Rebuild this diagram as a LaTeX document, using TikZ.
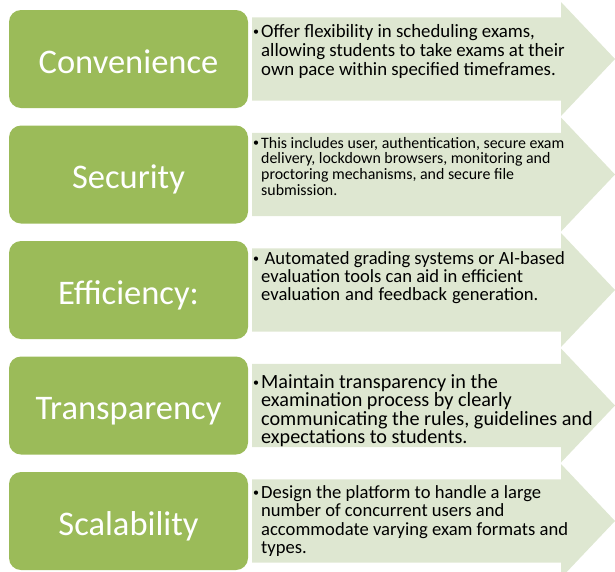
\documentclass[tikz,border=0pt]{standalone}
\usepackage{fontspec}
\setmainfont{Carlito}
\definecolor{boxgreen}{HTML}{9BBB59}
\definecolor{arrowgreen}{HTML}{DEE7D1}
\newcommand{\bulletpar}[1]{\makebox[8pt][l]{\raisebox{1.5pt}{\fontsize{12}{12}\selectfont\textbullet}}\parbox[t]{340pt}{\raggedright #1}}
\begin{document}
\begin{tikzpicture}[x=1pt,y=-1pt,
  headbox/.style={fill=boxgreen,rounded corners=12pt,minimum width=239pt,minimum height=98pt,
    inner sep=0pt,text=white,text height=28pt,text depth=0pt,font=\fontsize{34.5}{40}\selectfont},
  listtext/.style={anchor=base west,inner sep=0pt}]
\useasboundingbox(0,0)rectangle(615,571);
\pgfmathsetmacro{\bw}{41.7}
\pgfmathsetmacro{\hw}{57}
% arrows behind the text
\fill[arrowgreen](252,59)++(0,-\bw)--++(309,0)--++(0,\bw-\hw)--++(54,\hw)--++(-54,\hw)--++(0,\bw-\hw)--++(-309,0)--cycle;
\fill[arrowgreen](252,174.5)++(0,-\bw)--++(309,0)--++(0,\bw-\hw)--++(54,\hw)--++(-54,\hw)--++(0,\bw-\hw)--++(-309,0)--cycle;
\fill[arrowgreen](252,290)++(0,-\bw)--++(309,0)--++(0,\bw-\hw)--++(54,\hw)--++(-54,\hw)--++(0,\bw-\hw)--++(-309,0)--cycle;
\fill[arrowgreen](252,405.5)++(0,-\bw)--++(309,0)--++(0,\bw-\hw)--++(54,\hw)--++(-54,\hw)--++(0,\bw-\hw)--++(-309,0)--cycle;
\fill[arrowgreen](252,521)++(0,-\bw)--++(309,0)--++(0,\bw-\hw)--++(54,\hw)--++(-54,\hw)--++(0,\bw-\hw)--++(-309,0)--cycle;
% green heads
\node[headbox](conv)at(128.5,59){Convenience};
\node[headbox](sec)at(128.5,174.5){Security};
\node[headbox](eff)at(128.5,290){Efficiency:};
\node[headbox](transp)at(128.5,405.5){Transparency};
\node[headbox](scal)at(128.5,521){Scalability};
% bullet texts
\node[listtext,font=\fontsize{18.8}{19}\selectfont](convtxt)at(253,37.3){\bulletpar{Offer flexibility in scheduling exams,\\allowing students to take exams at their\\own pace within specified timeframes.}};
\node[listtext,font=\fontsize{15.9}{15.6}\selectfont](sectxt)at(253,148.3){\bulletpar{This includes user, authentication, secure exam\\delivery, lockdown browsers, monitoring and\\proctoring mechanisms, and secure file\\submission.}};
\node[listtext,font=\fontsize{18.6}{18.3}\selectfont](efftxt)at(253,264.3){\bulletpar{\hspace{3.5pt}Automated grading systems or AI-based\\evaluation tools can aid in efficient\\evaluation\hspace{5pt}and\hspace{5pt}feedback\hspace{5pt}generation.}};
\node[listtext,font=\fontsize{20.2}{18.5}\selectfont](transptxt)at(253,388.3){\bulletpar{Maintain transparency in the\\examination process by clearly\\communicating the rules, guidelines and\\expectations to students.}};
\node[listtext,font=\fontsize{18.6}{18.5}\selectfont](scaltxt)at(253,498.3){\bulletpar{Design the platform to handle a large\\number of concurrent users and\\accommodate varying exam formats and\\types.}};
\end{tikzpicture}
\end{document}
